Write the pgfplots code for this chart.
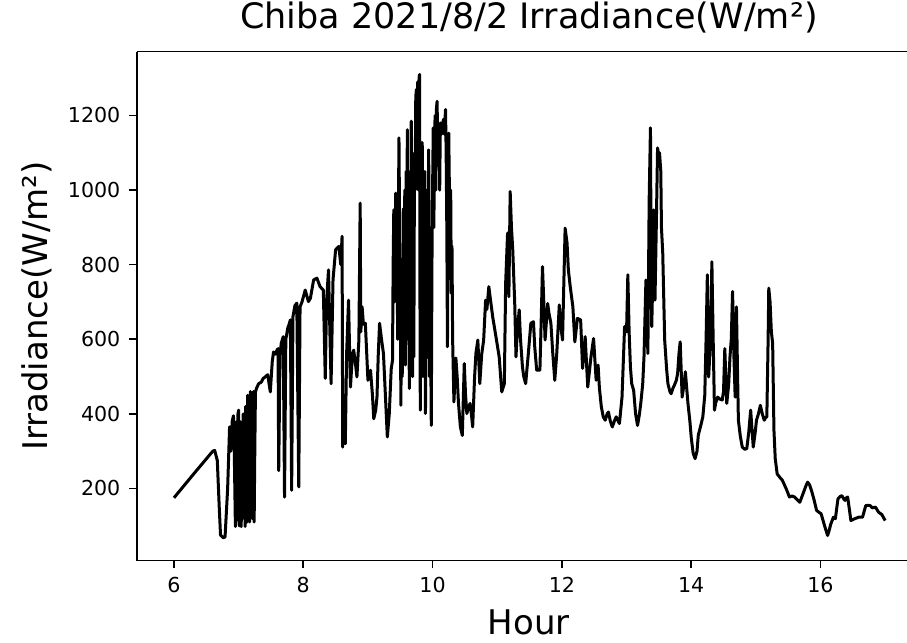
\documentclass[border=0pt]{standalone}
\usepackage{fontspec}
\setmainfont{DejaVu Sans}
\usepackage{pgfplots}
\pgfplotsset{compat=1.18}
\begin{document}
\begin{tikzpicture}
\begin{axis}[
  scale only axis,
  width=385pt, height=254.5pt,
  xmin=5.428, xmax=17.338,
  ymin=6.4, ymax=1371,
  separate axis lines,
  axis x line*=box,
  axis y line*=left,
  axis line style={-, line width=0.8pt},
  xtick={6,8,10,12,14,16},
  ytick={200,400,600,800,1000,1200},
  xtick pos=bottom, ytick pos=left,
  tick align=outside,
  major tick length=3.8pt,
  tick style={line width=0.8pt, black},
  /pgf/number format/assume math mode=true,
  /pgf/number format/set thousands separator={},
  ticklabel style={font=\fontsize{10.3}{12}\selectfont},
  xticklabel style={yshift=-1pt},
  yticklabel style={xshift=-1pt},
  title={Chiba 2021/8/2 Irradiance(W/m²)},
  title style={font=\fontsize{17.5}{20}\selectfont, at={(axis description cs:0.509,1)}, anchor=base, yshift=5.8pt, inner sep=0pt},
  xlabel={Hour},
  xlabel style={font=\fontsize{17}{20}\selectfont, at={(axis description cs:0.509,-0.122)}, anchor=center},
  ylabel={Irradiance(W/m²)},
  ylabel style={font=\fontsize{17}{20}\selectfont, at={(axis description cs:-0.13,0.5)}, anchor=center},
  clip=true,
]
\addplot[black, line width=1.5pt, line join=round] coordinates {
(6.00,175) (6.30,238) (6.60,300) (6.63,302) (6.67,275) (6.70,150) (6.72,75) (6.76,68) (6.79,70)
(6.83,200) (6.86,365) (6.88,300) (6.90,380) (6.92,395) (6.93,330) (6.95,98) (6.96,120) (6.97,380)
(6.98,250) (6.99,400) (7.00,410) (7.01,100) (7.02,380) (7.03,110) (7.04,98) (7.05,350) (7.06,300)
(7.07,400) (7.08,120) (7.09,330) (7.10,98) (7.11,420) (7.12,300) (7.13,110) (7.14,450) (7.15,150)
(7.16,380) (7.17,110) (7.18,460) (7.19,350) (7.20,455) (7.21,120) (7.22,400) (7.23,460) (7.24,110)
(7.25,300) (7.26,459) (7.28,470) (7.31,481) (7.35,485) (7.38,495)
(7.41,499) (7.45,505) (7.49,459) (7.52,540) (7.54,566) (7.57,560) (7.59,570) (7.61,575) (7.62,248)
(7.64,560) (7.66,590) (7.69,607) (7.71,177) (7.73,600) (7.76,630) (7.78,640) (7.80,652) (7.82,195)
(7.84,660) (7.87,690) (7.90,697) (7.93,204) (7.95,687) (7.98,700) (8.03,732) (8.08,701) (8.11,710)
(8.16,759) (8.21,764) (8.26,741) (8.31,732) (8.34,495) (8.36,700) (8.39,786) (8.43,481) (8.46,760)
(8.50,840) (8.55,849) (8.58,800) (8.60,876) (8.61,311) (8.62,450) (8.63,320) (8.64,450) (8.65,320) (8.67,560) (8.70,705)
(8.72,540) (8.73,472) (8.76,560) (8.78,571) (8.81,530) (8.83,499) (8.86,598) (8.88,965) (8.89,620)
(8.91,687) (8.93,640) (8.96,643) (9.00,490) (9.04,517) (9.07,450) (9.09,387) (9.12,410) (9.14,445)
(9.16,560) (9.18,643) (9.21,600) (9.24,562) (9.27,450) (9.30,338) (9.33,400) (9.36,520) (9.38,544)
(9.39,800) (9.40,947) (9.41,700) (9.42,860) (9.43,992) (9.44,750) (9.45,849) (9.46,600) (9.47,900)
(9.48,1140) (9.49,900) (9.50,700) (9.51,423) (9.52,800) (9.53,500) (9.54,600) (9.55,950) (9.56,723)
(9.57,1000) (9.58,531) (9.59,1050) (9.60,900) (9.61,1162) (9.62,600) (9.63,1000) (9.64,468)
(9.65,1050) (9.66,700) (9.67,1185) (9.68,900) (9.69,500) (9.70,950) (9.71,553) (9.72,1100)
(9.73,1000) (9.74,1250) (9.75,1270) (9.76,1150) (9.77,1290) (9.78,1000) (9.79,1300) (9.80,1310)
(9.805,700) (9.81,410) (9.82,1000) (9.83,600) (9.84,1127) (9.85,500) (9.86,1000) (9.87,700)
(9.88,1050) (9.89,401) (9.90,800) (9.91,550) (9.92,1000) (9.93,650) (9.94,1108) (9.95,500)
(9.96,900) (9.97,600) (9.98,369) (9.99,800) (10.00,1000) (10.01,1167) (10.02,900) (10.03,1150)
(10.04,1200) (10.05,1000) (10.06,1220) (10.07,1238) (10.08,1100) (10.10,1171) (10.11,1000)
(10.12,1180) (10.14,1150) (10.15,1176) (10.17,1190) (10.18,1150) (10.20,1216) (10.21,1100)
(10.22,900) (10.23,580) (10.24,900) (10.25,1153) (10.26,1000) (10.27,900) (10.28,1000) (10.29,723)
(10.30,850) (10.31,600) (10.33,432) (10.36,550) (10.38,500) (10.40,430) (10.43,365)
(10.46,342) (10.49,535) (10.51,450) (10.53,401) (10.56,420) (10.58,428) (10.60,400) (10.62,365)
(10.65,500) (10.67,562) (10.70,598) (10.73,481) (10.76,560) (10.79,598) (10.82,705) (10.84,680)
(10.87,741) (10.90,700) (10.93,660) (10.98,607) (11.03,553) (11.07,459) (11.09,470) (11.11,481)
(11.13,750) (11.16,885) (11.18,714) (11.20,996) (11.22,900) (11.24,840) (11.27,700) (11.29,553)
(11.31,620) (11.34,679) (11.36,600) (11.39,526) (11.41,500) (11.44,481) (11.48,560) (11.52,643)
(11.56,647) (11.58,580) (11.61,517) (11.66,517) (11.68,650) (11.70,795) (11.72,700) (11.74,598)
(11.78,696) (11.80,670) (11.83,643) (11.86,560) (11.89,490) (11.92,560) (11.96,692) (11.98,640)
(12.01,598) (12.03,750) (12.05,898) (12.08,858) (12.10,786) (12.13,740) (12.17,687) (12.20,593)
(12.24,656) (12.29,652) (12.32,522) (12.36,607) (12.40,472) (12.45,553) (12.49,602) (12.53,490)
(12.56,531) (12.58,470) (12.61,419) (12.64,392) (12.67,383) (12.70,400) (12.72,405) (12.75,380)
(12.78,365) (12.81,380) (12.84,392) (12.89,374) (12.93,445) (12.97,634) (13.00,620) (13.02,773)
(13.04,620) (13.06,526) (13.08,481) (13.11,463) (13.14,400) (13.17,369) (13.20,400) (13.22,428)
(13.25,480) (13.27,553) (13.30,759) (13.33,562) (13.35,974) (13.37,1167) (13.38,800) (13.39,634)
(13.41,800) (13.42,947) (13.44,705) (13.46,900) (13.48,1113) (13.50,1090) (13.51,1100) (13.53,1050)
(13.54,900) (13.56,831) (13.59,598) (13.62,520) (13.64,481) (13.67,460) (13.69,454) (13.72,470)
(13.74,477) (13.77,490) (13.79,508) (13.81,560) (13.83,593) (13.86,445) (13.89,480) (13.91,513)
(13.93,470) (13.95,428) (13.98,380) (14.00,338) (14.03,295) (14.06,280) (14.09,300) (14.11,343)
(14.15,370) (14.18,392) (14.21,450) (14.23,598) (14.25,773) (14.27,499) (14.30,600) (14.32,808)
(14.34,600) (14.36,410) (14.38,430) (14.41,445) (14.44,440) (14.48,437) (14.50,460) (14.52,575)
(14.55,428) (14.58,480) (14.60,553) (14.62,600) (14.64,728) (14.66,560) (14.68,445) (14.70,687)
(14.72,480) (14.73,383) (14.76,340) (14.79,311) (14.83,305) (14.86,307) (14.89,350) (14.92,410)
(14.94,360) (14.96,311) (14.99,350) (15.01,383) (15.04,400) (15.07,423) (15.10,400) (15.13,383)
(15.15,390) (15.17,392) (15.19,600) (15.20,737) (15.22,700) (15.24,620) (15.26,589) (15.28,356)
(15.30,280) (15.33,239) (15.37,230) (15.41,222) (15.47,199) (15.52,177) (15.56,180) (15.60,177)
(15.65,168) (15.68,163) (15.73,186) (15.77,205) (15.80,217) (15.83,210) (15.86,195) (15.90,170)
(15.94,141) (16.01,132) (16.07,96) (16.11,74) (16.13,85) (16.16,105) (16.20,123) (16.23,119)
(16.27,172) (16.30,178) (16.33,181) (16.36,172) (16.38,168) (16.40,175) (16.42,177) (16.45,140)
(16.47,114) (16.53,119) (16.59,123) (16.65,123) (16.70,154) (16.74,155) (16.77,154) (16.80,148)
(16.85,150) (16.90,136) (16.95,130) (17.00,114)
};
\coordinate (ll) at (rel axis cs:0,0);
\coordinate (ur) at (rel axis cs:1,1);
\end{axis}
\pgfresetboundingbox
\path[use as bounding box] ([xshift=-68.5pt,yshift=-41.15pt]ll) rectangle ([yshift=25.85pt]ur);
\end{tikzpicture}
\end{document}
